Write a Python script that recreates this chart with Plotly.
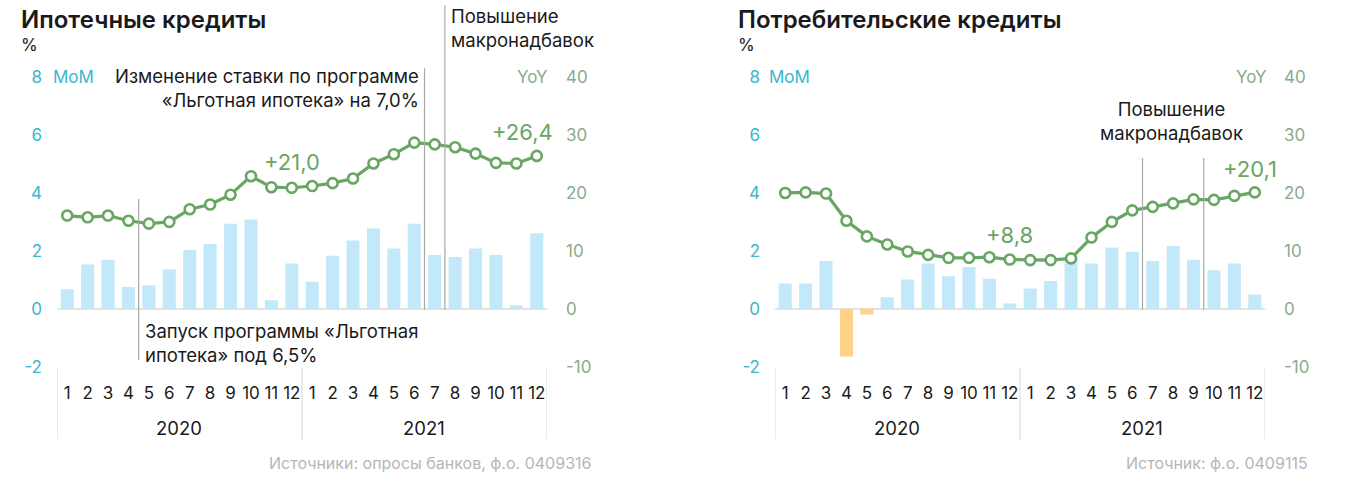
import plotly.graph_objects as go

years = ["2020", "2021"]
months = [str(m) for m in range(1, 13)]
periods = [f"{y}-{m}" for y in years for m in months]
month_labels = months + months

# Mortgage loans
mort_mom = [0.67, 1.53, 1.69, 0.75, 0.81, 1.36, 2.03, 2.24, 2.94, 3.08, 0.29, 1.56,
            0.93, 1.83, 2.36, 2.77, 2.08, 2.94, 1.86, 1.79, 2.08, 1.86, 0.12, 2.61]
mort_yoy = [16.1, 15.8, 16.1, 15.2, 14.7, 15.0, 17.2, 18.0, 19.7, 22.9, 21.0, 20.9,
            21.2, 21.7, 22.5, 25.1, 26.7, 28.7, 28.4, 27.9, 26.8, 25.2, 25.1, 26.4]

# Consumer loans
cons_mom = [0.87, 0.87, 1.65, -1.65, -0.20, 0.40, 1.01, 1.56, 1.12, 1.44, 1.04, 0.18,
            0.70, 0.96, 1.72, 1.56, 2.12, 1.97, 1.65, 2.17, 1.69, 1.33, 1.56, 0.49]
cons_yoy = [20.0, 20.1, 19.9, 15.2, 12.5, 11.1, 9.9, 9.3, 8.8, 8.8, 8.9, 8.5,
            8.4, 8.4, 8.7, 12.3, 15.0, 17.0, 17.6, 18.2, 18.9, 18.8, 19.5, 20.1]

mom_ticks = [-2, 0, 2, 4, 6, 8]
mom_ticktext = ["-2", "0", "2", "4", "6", "8"]
yoy_ticks = [-10, 0, 10, 20, 30, 40]
yoy_ticktext = ["-10", "0", "10", "20", "30", "40"]

FONT = "Inter"
BAR_BLUE = "#c3e8fa"
BAR_ORANGE = "#fed287"
LINE_GREEN = "#68a663"
MOM_COLOR = "#3db5cf"
YOY_COLOR = "#8aab8b"
TEXT = "#1a1a1a"
GRAY = "#b6b6b6"

W, H = 1356, 478
SC = 0.96
CY = 242


def px(x):
    return x / W


def py(y):
    return 1 - (CY + (y - CY) / SC) / H


fig = go.Figure()


def add_panel(mom, yoy, xa, ya_mom, ya_yoy):
    colors = [BAR_BLUE if v >= 0 else BAR_ORANGE for v in mom]
    fig.add_trace(go.Bar(x=periods, y=mom, marker_color=colors, marker_line_width=0,
                         xaxis=xa, yaxis=ya_mom, showlegend=False))
    fig.add_trace(go.Scatter(x=periods, y=yoy, mode="lines+markers",
                             line=dict(color=LINE_GREEN, width=3.2),
                             marker=dict(size=10, color="white",
                                         line=dict(color=LINE_GREEN, width=2.6)),
                             xaxis=xa, yaxis=ya_yoy, showlegend=False, cliponaxis=False))


add_panel(mort_mom, mort_yoy, "x", "y", "y2")
add_panel(cons_mom, cons_yoy, "x2", "y3", "y4")

ydom = [py(367), py(77)]
xdom1 = [px(57), px(547)]
xdom2 = [px(775), px(1265)]

xcommon = dict(type="category", categoryorder="array", categoryarray=periods,
               range=[-0.5, 23.5], tickmode="array", tickvals=periods, ticktext=month_labels,
               showgrid=False, showline=False, zeroline=False, ticks="",
               tickfont=dict(family=FONT, size=17, color=TEXT), ticklabelstandoff=14,
               fixedrange=True)
momcommon = dict(range=[-2, 8], tickmode="array", tickvals=mom_ticks, ticktext=mom_ticktext,
                 showgrid=False, showline=False,
                 zeroline=True, zerolinecolor="#e3e3e3", zerolinewidth=1.5,
                 tickfont=dict(family=FONT, size=17, color=MOM_COLOR), ticklabelstandoff=14,
                 domain=ydom)
yoycommon = dict(range=[-10, 40], tickmode="array", tickvals=yoy_ticks, ticktext=yoy_ticktext,
                 showgrid=False, showline=False, zeroline=False, side="right",
                 tickfont=dict(family=FONT, size=17, color=YOY_COLOR), ticklabelstandoff=18)

fig.update_layout(
    width=W, height=H, margin=dict(l=0, r=0, t=0, b=0),
    paper_bgcolor="white", plot_bgcolor="white",
    bargap=0.36,
    font=dict(family=FONT, color=TEXT),
    xaxis=dict(domain=xdom1, anchor="y", **xcommon),
    xaxis2=dict(domain=xdom2, anchor="y3", **xcommon),
    yaxis=dict(anchor="x", **momcommon),
    yaxis2=dict(anchor="x", overlaying="y", **yoycommon),
    yaxis3=dict(anchor="x2", **momcommon),
    yaxis4=dict(anchor="x2", overlaying="y3", **yoycommon),
)

shapes = []
line_style = dict(color="#a8a8a8", width=1.2)
# year separators
for xa in ["x", "x2"]:
    for xv in [-0.5, 11.5, 23.5]:
        shapes.append(dict(type="line", xref=xa, yref="paper", x0=xv, x1=xv,
                           y0=py(440), y1=py(368), line=dict(color="#dcdcdc", width=1.2)))
# event lines - mortgage
shapes.append(dict(type="line", xref="x", yref="paper", x0=3.5, x1=3.5,
                   y0=py(360), y1=py(199), line=line_style))
shapes.append(dict(type="line", xref="x", yref="paper", x0=17.5, x1=17.5,
                   y0=py(310), y1=py(68), line=line_style))
shapes.append(dict(type="line", xref="x", yref="paper", x0=18.5, x1=18.5,
                   y0=py(310), y1=py(5), line=line_style))
# event lines - consumer
shapes.append(dict(type="line", xref="x2", yref="paper", x0=17.5, x1=17.5,
                   y0=py(310), y1=py(158), line=line_style))
shapes.append(dict(type="line", xref="x2", yref="paper", x0=20.5, x1=20.5,
                   y0=py(310), y1=py(158), line=line_style))
fig.update_layout(shapes=shapes)

ann = []


def text(x, y, s, size=18.5, color=TEXT, xanchor="left", align="left", xref="paper",
         yref="paper", xshift=0, weight=None):
    f = dict(family=FONT, size=size, color=color)
    if weight:
        f["weight"] = weight
    ann.append(dict(x=x, y=y, xref=xref, yref=yref, text=s, showarrow=False,
                    xanchor=xanchor, yanchor="middle", align=align, font=f, xshift=xshift))


# Left panel texts
text(px(19), py(19), "Ипотечные кредиты", size=24, weight=600)
text(px(19), py(45), "%", size=17)
text(px(51), py(77), "MoM", size=17, color=MOM_COLOR)
text(px(550), py(77), "YoY", size=17, color=YOY_COLOR, xanchor="right")
text(px(421), py(88), "Изменение ставки по программе<br>«Льготная ипотека» на 7,0%",
     xanchor="right", align="right")
text(px(449), py(28), "Повышение<br>макронадбавок")
text(px(143), py(343), "Запуск программы «Льготная<br>ипотека» под 6,5%")
text("2020-12", py(162), "+21,0", size=22, color=LINE_GREEN, xanchor="center", xref="x")
text("2021-12", py(132), "+26,4", size=22, color=LINE_GREEN, xanchor="center", xref="x",
     xshift=-14)
text(px(593), py(464), "Источники: опросы банков, ф.о. 0409316", size=16, color=GRAY,
     xanchor="right")

# Right panel texts
text(px(736), py(19), "Потребительские кредиты", size=24, weight=600)
text(px(736), py(45), "%", size=17)
text(px(767), py(77), "MoM", size=17, color=MOM_COLOR)
text(px(1269), py(77), "YoY", size=17, color=YOY_COLOR, xanchor="right")
text(px(1171), py(121), "Повышение<br>макронадбавок", xanchor="center", align="center")
text("2020-12", py(235), "+8,8", size=22, color=LINE_GREEN, xanchor="center", xref="x2")
text("2021-12", py(169), "+20,1", size=22, color=LINE_GREEN, xanchor="center", xref="x2",
     xshift=-5)
text(px(1310), py(464), "Источник: ф.о. 0409115", size=16, color=GRAY, xanchor="right")

# Year labels
for xa in ["x", "x2"]:
    text("2020-6", py(428), "2020", xanchor="center", xref=xa, xshift=10)
    text("2021-6", py(428), "2021", xanchor="center", xref=xa, xshift=10)

fig.update_layout(annotations=ann)

fig.write_html("out.html")
